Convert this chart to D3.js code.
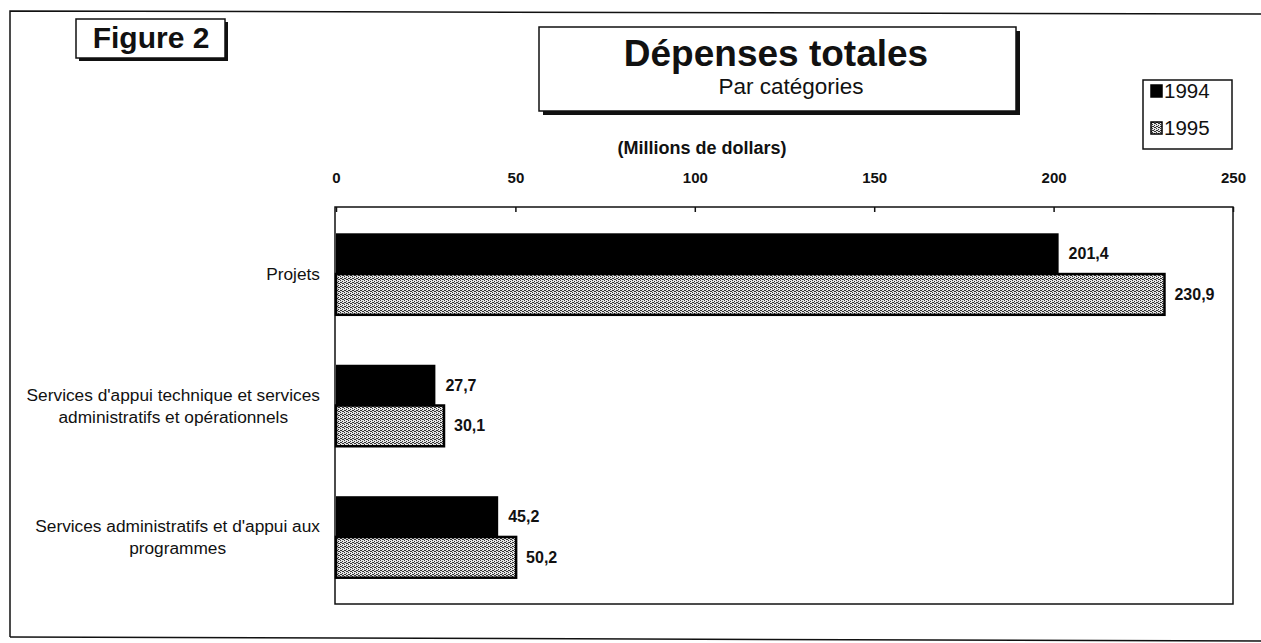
<!DOCTYPE html>
<html><head><meta charset="utf-8">
<script src="https://cdnjs.cloudflare.com/ajax/libs/d3/7.8.5/d3.min.js"></script>
<style>
html,body{margin:0;padding:0;background:#fff;}
text{font-family:"Liberation Sans",Arial,Helvetica,sans-serif;fill:#111;}
</style></head>
<body><svg id="chart" width="1261" height="643"></svg>
<script>
const categories = ["Projets",
  "Services d'appui technique et services administratifs et opérationnels",
  "Services administratifs et d'appui aux programmes"];
const categoryLines = [
  ["Projets"],
  ["Services d'appui technique et services", "administratifs et opérationnels"],
  ["Services administratifs et d'appui aux", "programmes"]];
const years = ["1994", "1995"];
const values1994 = [201.4, 27.7, 45.2];
const values1995 = [230.9, 30.1, 50.2];
const xTicks = [0, 50, 100, 150, 200, 250];
const titleText = "Dépenses totales";
const subtitleText = "Par catégories";
const unitText = "(Millions de dollars)";
const figureText = "Figure 2";

(function(){
const svg = d3.select("#chart");
const defs = svg.append("defs");
const pat = defs.append("pattern").attr("id","stip").attr("patternUnits","userSpaceOnUse")
  .attr("width",4).attr("height",4);
pat.append("rect").attr("width",4).attr("height",4).attr("fill","#e4e4e4");
[[0,0],[2,1],[1,2],[3,3],[2,3],[0,2]].forEach(([a,b])=>pat.append("rect").attr("x",a).attr("y",b).attr("width",1).attr("height",1).attr("fill","#333"));

const fr = d3.formatLocale({decimal:",",thousands:" ",grouping:[3],currency:["","$"]});
const fmt = fr.format(".1f");

// outer frame
svg.append("path").attr("d","M10,637 L10,11 L1275,14").attr("fill","none").attr("stroke","#111").attr("stroke-width",1.5);
svg.append("line").attr("x1",10).attr("x2",1275).attr("y1",637).attr("y2",641).attr("stroke","#111").attr("stroke-width",1.5);

function shadowBox(x,y,w,h,sh){
  svg.append("rect").attr("x",x+sh).attr("y",y+sh).attr("width",w).attr("height",h).attr("fill","#111");
  svg.append("rect").attr("x",x).attr("y",y).attr("width",w).attr("height",h).attr("fill","#fff").attr("stroke","#111").attr("stroke-width",1.5);
}
shadowBox(76,19,149,39,3);
svg.append("text").attr("x",151).attr("y",48).attr("text-anchor","middle").attr("font-size",30).attr("font-weight","bold").text(figureText);

shadowBox(539,27,477,84,4);
svg.append("text").attr("x",776).attr("y",66).attr("text-anchor","middle").attr("font-size",37).attr("font-weight","bold").text(titleText);
svg.append("text").attr("x",791).attr("y",94).attr("text-anchor","middle").attr("font-size",22.5).text(subtitleText);

svg.append("text").attr("x",702).attr("y",154).attr("text-anchor","middle").attr("font-size",18).attr("font-weight","bold").text(unitText);

const pL=336, pR=1233, pT=207, pB=604;
const x = d3.scaleLinear().domain([0,250]).range([pL,pR]);
const y = d3.scaleBand().domain(categories).range([pT,pB]).paddingInner(0.38).paddingOuter(0.2);
const ys = d3.scaleBand().domain(years).range([0,y.bandwidth()]);

svg.append("rect").attr("x",pL-1).attr("y",pT).attr("width",pR-pL+1).attr("height",pB-pT)
  .attr("fill","#fff").attr("stroke","#111").attr("stroke-width",1.5);

const ax = svg.append("g").attr("transform",`translate(0,${pT})`)
  .call(d3.axisTop(x).tickValues(xTicks).tickSizeInner(-5).tickSizeOuter(0).tickPadding(24));
ax.select(".domain").remove();
ax.selectAll("line").attr("stroke","#111").attr("stroke-width",1.5);
ax.selectAll("text").attr("font-size",15).attr("font-weight","bold").attr("font-family","Liberation Sans, Arial, sans-serif").attr("fill","#111");

const data = categories.map((c,i)=>({c, v94:values1994[i], v95:values1995[i]}));
svg.selectAll(".b94").data(data).enter().append("rect")
  .attr("x",x(0)).attr("y",d=>y(d.c)+ys("1994")).attr("width",d=>x(d.v94)-x(0)).attr("height",ys.bandwidth())
  .attr("fill","#000");
svg.selectAll(".b95").data(data).enter().append("rect")
  .attr("x",x(0)).attr("y",d=>y(d.c)+ys("1995")).attr("width",d=>x(d.v95)-x(0)).attr("height",ys.bandwidth())
  .attr("fill","url(#stip)").attr("stroke","#000").attr("stroke-width",2.5);

data.forEach(d=>{
  svg.append("text").attr("x",x(d.v94)+10).attr("y",y(d.c)+ys("1994")+ys.bandwidth()/2).attr("dy","0.35em")
    .attr("font-size",16).attr("font-weight","bold").text(fmt(d.v94));
  svg.append("text").attr("x",x(d.v95)+10).attr("y",y(d.c)+ys("1995")+ys.bandwidth()/2).attr("dy","0.35em")
    .attr("font-size",16).attr("font-weight","bold").text(fmt(d.v95));
});

categories.forEach((c,i)=>{
  const lines = categoryLines[i];
  const g = svg.append("g");
  const cy = y(c)+y.bandwidth()/2;
  const ts = lines.map((l,j)=>g.append("text").attr("y",cy+(j-(lines.length-1)/2)*22).attr("dy","0.35em")
    .attr("font-size",17.3).attr("text-anchor","middle").text(l));
  const maxW = d3.max(ts, t=>t.node().getComputedTextLength());
  ts.forEach(t=>t.attr("x",320-maxW/2));
});

svg.append("rect").attr("x",1143).attr("y",80).attr("width",89).attr("height",69).attr("fill","#fff").attr("stroke","#111").attr("stroke-width",1.5);
const lg = [{k:"1994",fill:"#000"},{k:"1995",fill:"url(#stip)"}];
lg.forEach((d,i)=>{
  const yy = 97 + i*37;
  svg.append("rect").attr("x",1151).attr("y",yy-12).attr("width",11).attr("height",12).attr("fill",d.fill).attr("stroke","#000").attr("stroke-width",1.5);
  svg.append("text").attr("x",1164).attr("y",yy+1).attr("font-size",20.5).text(d.k);
});
})();
</script></body></html>
